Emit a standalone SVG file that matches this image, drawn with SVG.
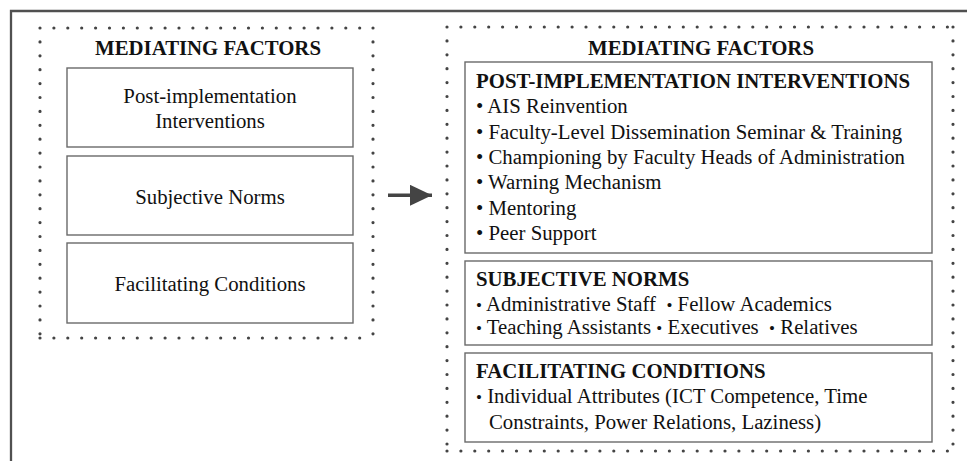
<svg xmlns="http://www.w3.org/2000/svg" width="967" height="461" viewBox="0 0 967 461">
<style>
text{font-family:"Liberation Serif","Times New Roman",serif;font-size:20.8px;fill:#111;}
.b{font-weight:bold;}
.c{text-anchor:middle;}
.box{fill:#fff;stroke:#6a6a6a;stroke-width:1.4;}
.dots{fill:none;stroke:#444;stroke-width:3.2;stroke-linecap:round;stroke-dasharray:0 13.9;}
.sb{font-size:17px;}
</style>
<defs>
<marker id="ah" viewBox="0 0 22 21" refX="22" refY="10.5" markerWidth="22" markerHeight="21" markerUnits="userSpaceOnUse" orient="auto">
<path d="M0,0 L22,10.5 L0,21 Z" fill="#444"/>
</marker>
</defs>
<rect x="0" y="0" width="967" height="461" fill="#fff"/>
<path d="M11,461 V11 H967" fill="none" stroke="#505050" stroke-width="2.3"/>

<g id="left-panel">
<path class="dots" d="M40,28 H373 M373,28 V338 M40,338 H373 M40,28 V338"/>
<text class="b c" x="208" y="55">MEDIATING FACTORS</text>
<g id="left-post">
<rect class="box" x="67" y="68" width="286" height="79"/>
<text class="c" x="210" y="103">Post-implementation</text>
<text class="c" x="210" y="128">Interventions</text>
</g>
<g id="left-sn">
<rect class="box" x="67" y="156" width="286" height="79"/>
<text class="c" x="210" y="203.5">Subjective Norms</text>
</g>
<g id="left-fc">
<rect class="box" x="67" y="243" width="286" height="80"/>
<text class="c" x="210" y="291">Facilitating Conditions</text>
</g>
</g>

<g id="connectors">
<path d="M388,195.3 H432" stroke="#444" stroke-width="3.6" marker-end="url(#ah)"/>
</g>

<g id="right-panel">
<path class="dots" d="M447,27 H953 M953,27 V451 M447,451 H953 M447,27 V451"/>
<text class="b c" x="701" y="55">MEDIATING FACTORS</text>
<g id="right-post">
<rect class="box" x="465" y="62" width="467" height="191"/>
<text class="b" x="476" y="88">POST-IMPLEMENTATION INTERVENTIONS</text>
<text x="476" y="113.3">• AIS Reinvention</text>
<text x="476" y="138.6">• Faculty-Level Dissemination Seminar &amp; Training</text>
<text x="476" y="163.9">• Championing by Faculty Heads of Administration</text>
<text x="476" y="189.2">• Warning Mechanism</text>
<text x="476" y="214.5">• Mentoring</text>
<text x="476" y="239.8">• Peer Support</text>
</g>
<g id="right-sn">
<rect class="box" x="465" y="261" width="467" height="84"/>
<text class="b" x="476" y="286">SUBJECTIVE NORMS</text>
<text x="476" y="311" xml:space="preserve"><tspan class="sb">•</tspan> Administrative Staff  <tspan class="sb">•</tspan> Fellow Academics</text>
<text x="476" y="334" xml:space="preserve"><tspan class="sb">•</tspan> Teaching Assistants <tspan class="sb">•</tspan> Executives  <tspan class="sb">•</tspan> Relatives</text>
</g>
<g id="right-fc">
<rect class="box" x="465" y="353" width="467" height="89"/>
<text class="b" x="476" y="378">FACILITATING CONDITIONS</text>
<text x="476" y="403"><tspan class="sb">•</tspan> Individual Attributes (ICT Competence, Time</text>
<text x="489" y="429">Constraints, Power Relations, Laziness)</text>
</g>
</g>
</svg>
